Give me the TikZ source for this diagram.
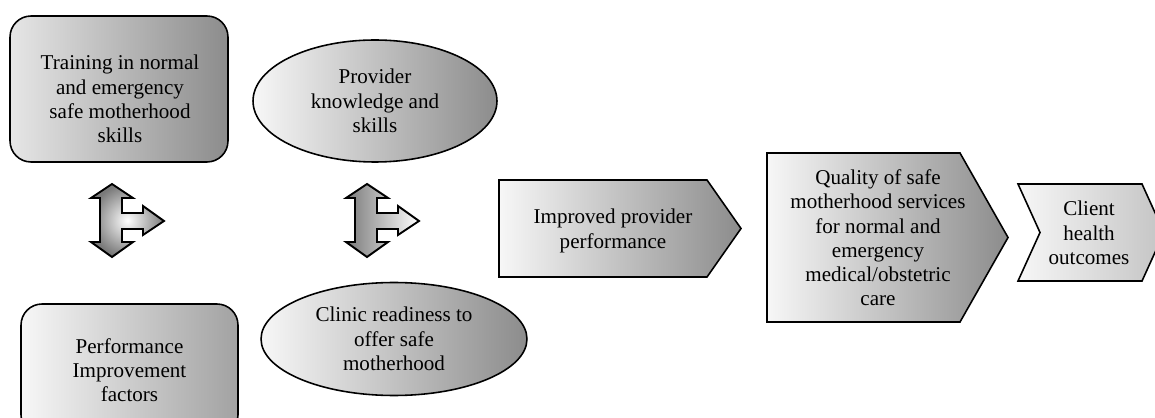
\documentclass[tikz,border=0pt]{standalone}
\usepackage{fontspec}
\setmainfont{Liberation Serif}
\usetikzlibrary{shapes.geometric}
\usepackage{xcolor}
\definecolor{cLight}{HTML}{F7F7F7}
\definecolor{cMid}{HTML}{E6E6E6}
\definecolor{cDark}{HTML}{8C8C8C}
\definecolor{cGrey}{HTML}{A2A2A2}
\definecolor{cSoft}{HTML}{C4C4C4}
\definecolor{cArrow}{HTML}{7A7A7A}
\newcommand{\tarrowpath}{(21,-37) -- (42,-23) -- (31,-23) -- (31,-8) -- (52,-8) -- (52,-15) -- (73,0)
  -- (52,14) -- (52,8) -- (31,8) -- (31,21) -- (42,21) -- (21,36) -- (0,21) -- (9,21) -- (9,-23)
  -- (0,-23) -- cycle}
\tikzset{
  lbl/.style={align=center, font=\fontsize{12}{13.8}\selectfont, inner sep=0pt},
  rbox/.style={
    draw=black, rounded corners=0.42cm, line width=0.9pt,
    left color=#1, right color=cDark, lbl,
  },
  rbox/.default=cLight,
  oval/.style={
    ellipse, draw=black, line width=0.9pt,
    left color=cLight, right color=cDark, lbl,
  },
  pent/.style={draw=black, line width=0.9pt, left color=cLight, right color=#1},
  pent/.default=cDark,
  blockarr/.style={draw=black, line width=1.1pt, line join=miter},
}

\begin{document}
\begin{tikzpicture}[x=0.02cm, y=-0.02cm]
  \useasboundingbox (0,0) rectangle (1155,418);
  \clip (0,0) rectangle (1155,418);

  % Inputs
  \node[rbox=cMid, minimum width=4.36cm, minimum height=2.92cm] (train) at (119,89) {};
  \node[lbl] (trainlbl) at (120,99) {Training in normal\\and emergency\\safe motherhood\\skills};
  \node[rbox, right color=cGrey, minimum width=4.34cm, minimum height=2.64cm]
    (perf) at (129.5,370) {Performance\\Improvement\\factors};

  % Intermediate results
  \node[oval, minimum width=4.88cm, minimum height=2.44cm] (prov) at (375,101) {Provider\\knowledge and\\skills};
  \node[oval, minimum width=5.32cm, minimum height=2.26cm]
    (clinic) at (394,339) {Clinic readiness to\\offer safe\\motherhood};

  % Block arrows
  \shadedraw[blockarr, inner color=white, outer color=cArrow, shift={(91,221)}] \tarrowpath;
  \shadedraw[blockarr, left color=cArrow, right color=white, shift={(346,221)}] \tarrowpath;

  % Outcome chain
  \shadedraw[pent] (499,180) -- (707,180) -- (741,228.5) -- (707,277) -- (499,277) -- cycle;
  \node[lbl] (impr) at (613,231) {Improved provider\\performance};

  \shadedraw[pent] (767,153) -- (960,153) -- (1008,237.5) -- (960,322) -- (767,322) -- cycle;
  \node[lbl] (qual) at (878,238)
    {Quality of safe\\motherhood services\\for normal and\\emergency\\medical/obstetric\\care};

  \shadedraw[pent=cSoft] (1018,184) -- (1142,184) -- (1164,232.5) -- (1142,281) -- (1018,281)
    -- (1040,232.5) -- cycle;
  \node[lbl] (client) at (1089,233) {Client\\health\\outcomes};

\end{tikzpicture}
\end{document}
